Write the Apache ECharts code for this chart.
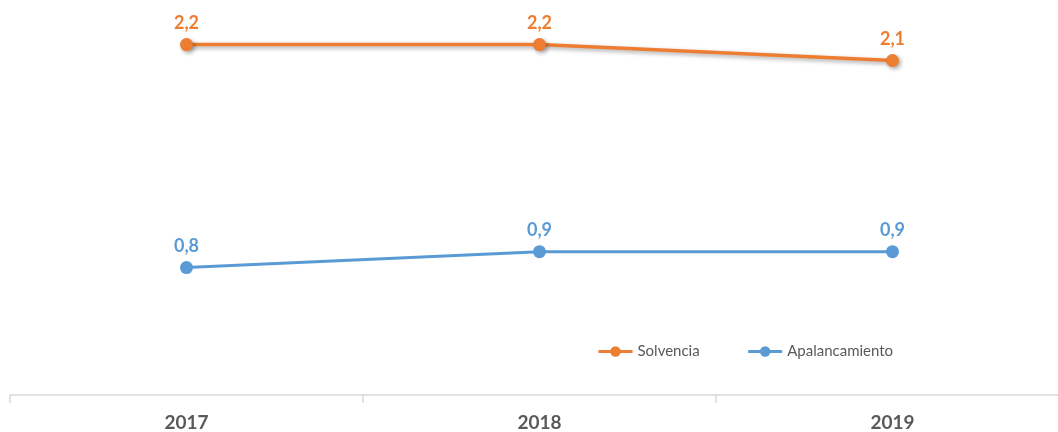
<!DOCTYPE html>
<html>
<head>
<meta charset="utf-8">
<script src="https://cdn.jsdelivr.net/npm/echarts@6/dist/echarts.min.js"></script>
<style>
  html, body { margin: 0; padding: 0; background: #fff; }
  #box { width: 1058px; height: 432px; }
</style>
</head>
<body>
<div id="box"></div>
<script>
// datos del gráfico
var years = ['2017', '2018', '2019'];
var solvencia = [2.2, 2.2, 2.1];
var apalancamiento = [0.8, 0.9, 0.9];

var myChart = echarts.init(document.getElementById('box'));

function labelFmt(p) {
    return p.value.toFixed(1).replace('.', ',');
}

var option = {
    animation: false,
    textStyle: { fontFamily: 'Lato, "Open Sans", sans-serif' },
    // el gráfico original está recortado a la derecha
    grid: { left: 10, width: 1059, top: 0, bottom: 37, outerBoundsMode: 'none', containLabel: false },
    legend: {
        left: 592,
        top: 339,
        itemWidth: 34,
        itemHeight: 13,
        itemGap: 47,
        lineStyle: { width: 3 },
        textStyle: { color: '#595959', fontSize: 15 },
        data: ['Solvencia', 'Apalancamiento']
    },
    xAxis: {
        type: 'category',
        data: years,
        axisLine: { lineStyle: { color: '#d9d9d9', width: 1.5 } },
        axisTick: { show: true, length: 8, lineStyle: { color: '#d9d9d9', width: 1.5 } },
        axisLabel: { color: '#595959', fontSize: 19, fontWeight: 'bold', margin: 18 }
    },
    yAxis: {
        type: 'value',
        min: 0,
        max: 2.48,
        show: false,
        splitLine: { show: false }
    },
    series: [
        {
            name: 'Solvencia',
            type: 'line',
            data: solvencia,
            color: '#ED7D31',
            symbol: 'circle',
            symbolSize: 13,
            lineStyle: {
                width: 3.5,
                shadowColor: 'rgba(0,0,0,0.35)',
                shadowBlur: 4,
                shadowOffsetX: 2,
                shadowOffsetY: 2
            },
            itemStyle: {
                shadowColor: 'rgba(0,0,0,0.35)',
                shadowBlur: 4,
                shadowOffsetX: 2,
                shadowOffsetY: 2
            },
            label: {
                show: true,
                position: 'top',
                distance: 6,
                color: '#ED7D31',
                fontSize: 18,
                fontWeight: 'bold',
                formatter: labelFmt
            }
        },
        {
            name: 'Apalancamiento',
            type: 'line',
            data: apalancamiento,
            color: '#5B9BD5',
            symbol: 'circle',
            symbolSize: 13,
            lineStyle: { width: 3 },
            label: {
                show: true,
                position: 'top',
                distance: 6,
                color: '#5B9BD5',
                fontSize: 18,
                fontWeight: 'bold',
                formatter: labelFmt
            }
        }
    ]
};
myChart.setOption(option);
</script>
</body>
</html>
